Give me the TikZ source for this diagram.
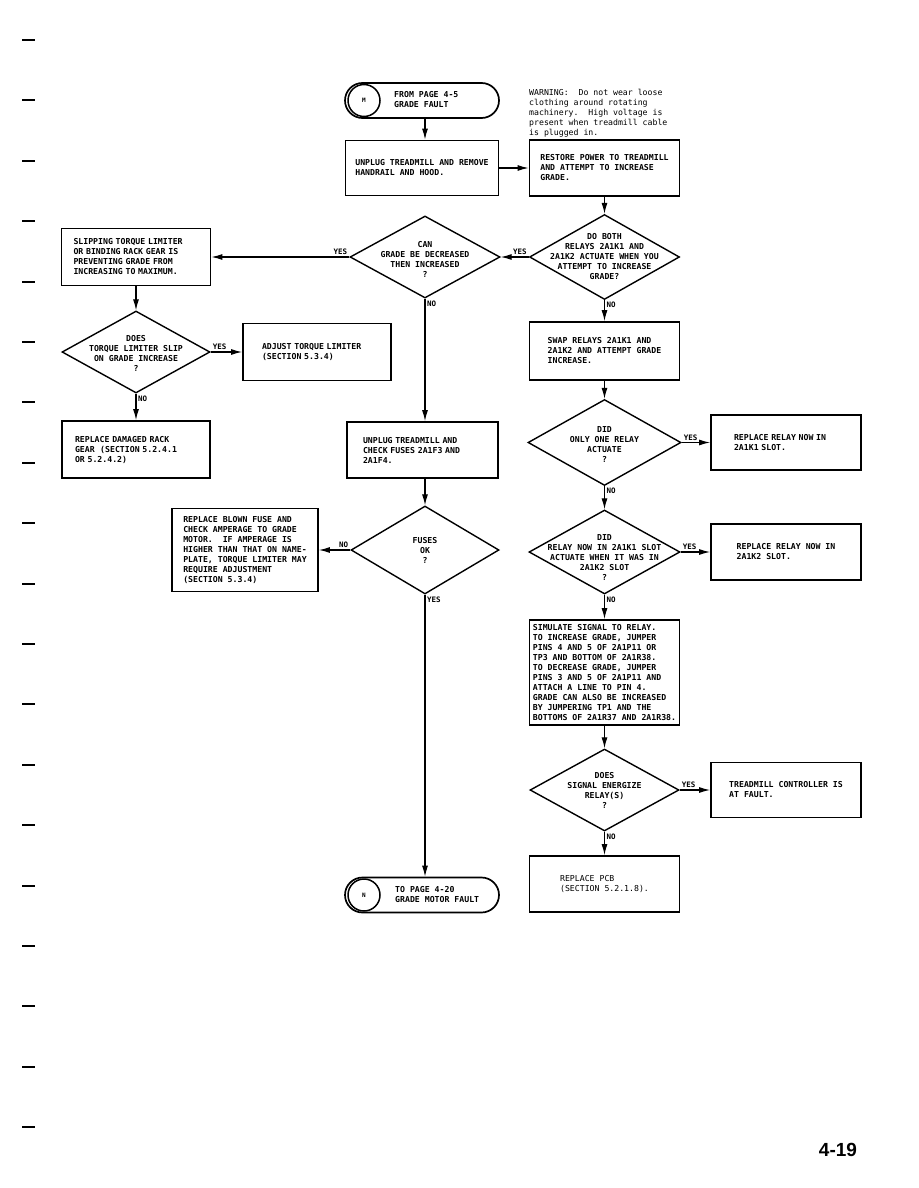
\documentclass[tikz,border=0pt]{standalone}
\usepackage{fontspec}
\setmonofont{DejaVu Sans Mono}
\newfontfamily\pagefont{Liberation Sans}
\usepackage{tikz}
\usetikzlibrary{arrows.meta, positioning, calc, shapes.geometric, shapes.misc}

\begin{document}
\begin{tikzpicture}[
    x=1pt, y=-1pt,
    font=\fontsize{8.2}{10}\selectfont\ttfamily\bfseries,
    box/.style={draw, line width=1.8pt, align=left, inner sep=0pt},
    dia/.style={diamond, draw, line width=1.4pt, inner sep=0pt},
    dtext/.style={align=center, inner sep=0pt},
    term/.style={rounded rectangle, draw, line width=1.7pt, minimum width=154pt, minimum height=35pt, inner sep=0pt},
    tcirc/.style={circle, draw, line width=1.5pt, minimum size=32pt, inner sep=0pt, font=\fontsize{6}{6}\selectfont\ttfamily\bfseries},
    plain/.style={font=\fontsize{8.2}{10}\selectfont\ttfamily},
    lbl/.style={inner sep=1.5pt, font=\fontsize{7.5}{8}\selectfont\ttfamily\bfseries},
    arrow/.style={-{Latex[length=11pt,width=6pt]}, line width=1.1pt}
]
\useasboundingbox (0,0) rectangle (918,1188);

% binder marks on the left edge
\foreach \i in {0,...,18}
    \draw[line width=2pt] (22,{40+60.4*\i}) -- (35,{40+60.4*\i});

% entry from page 4-5
\node[term] (fromM) at (422,100.5) {};
\node[tcirc] (mcirc) at (364,100.5) {M};
\node[dtext, anchor=west, align=left] (fromMtxt) at (394,99.5) {FROM PAGE 4-5\\GRADE FAULT};

\node[plain, anchor=north west, align=left, inner sep=0pt] (warn) at (529,89)
    {WARNING:\ \ Do not wear loose\\clothing around rotating\\machinery.\ \ High voltage is\\present when treadmill cable\\is plugged in.};

% middle and left column
\node[box, minimum width=153pt, minimum height=55pt] (unplug) at (422,168)
    {UNPLUG TREADMILL AND REMOVE\\HANDRAIL AND HOOD.};
\node[dia, minimum width=150pt, minimum height=82pt] (can) at (425,257) {};
\node[dtext, yshift=-2pt] (cantxt) at (can) {CAN\\GRADE BE DECREASED\\THEN INCREASED\\?};

\node[box, minimum width=149pt, minimum height=57pt, text width=125pt, inner xsep=12pt] (slip) at (136,257)
    {SLIPPING TORQUE LIMITER\\OR BINDING RACK GEAR IS\\PREVENTING GRADE FROM\\INCREASING TO MAXIMUM.};
\node[dia, minimum width=148pt, minimum height=82pt] (torq) at (136,352) {};
\node[dtext, yshift=-1pt] (torqtxt) at (torq) {DOES\\TORQUE LIMITER SLIP\\ON GRADE INCREASE\\?};
\node[box, minimum width=148pt, minimum height=57pt, text width=110pt, inner xsep=19pt] (adjust) at (317,352)
    {ADJUST TORQUE LIMITER\\(SECTION 5.3.4)};
\node[box, minimum width=148pt, minimum height=57pt, text width=122pt, inner xsep=13pt] (rack) at (136,449.5)
    {REPLACE DAMAGED RACK\\GEAR\ \ (SECTION 5.2.4.1\\OR 5.2.4.2)};

\node[box, minimum width=151pt, minimum height=56pt, text width=119pt, inner xsep=16pt] (unplugb) at (422.5,450)
    {UNPLUG TREADMILL AND\\CHECK FUSES 2A1F3 AND\\2A1F4.};
\node[dia, minimum width=148pt, minimum height=88pt] (fuses) at (425,550) {};
\node[dtext] (fusestxt) at (fuses) {FUSES\\OK\\?};
\node[box, minimum width=146pt, minimum height=83pt] (blown) at (245,550)
    {REPLACE BLOWN FUSE AND\\CHECK AMPERAGE TO GRADE\\MOTOR.\ \ IF AMPERAGE IS\\HIGHER THAN THAT ON NAME-\\PLATE, TORQUE LIMITER MAY\\REQUIRE ADJUSTMENT\\(SECTION 5.3.4)};

% exit to page 4-20
\node[term] (toN) at (422,895) {};
\node[tcirc] (ncirc) at (364,895) {N};
\node[dtext, anchor=west, align=left] (toNtxt) at (395,895) {TO PAGE 4-20\\GRADE MOTOR FAULT};

% right column
\node[box, minimum width=150pt, minimum height=56pt] (restore) at (604.5,168)
    {RESTORE POWER TO TREADMILL\\AND ATTEMPT TO INCREASE\\GRADE.};
\node[dia, minimum width=150pt, minimum height=85pt] (both) at (604.5,257) {};
\node[dtext] (bothtxt) at (both) {DO BOTH\\RELAYS 2A1K1 AND\\2A1K2 ACTUATE WHEN YOU\\ATTEMPT TO INCREASE\\GRADE?};
\node[box, minimum width=150pt, minimum height=58pt] (swap) at (604.5,351)
    {SWAP RELAYS 2A1K1 AND\\2A1K2 AND ATTEMPT GRADE\\INCREASE.};
\node[dia, minimum width=153pt, minimum height=86pt] (did1) at (604.5,442.5) {};
\node[dtext, yshift=-2pt] (did1txt) at (did1) {DID\\ONLY ONE RELAY\\ACTUATE\\?};
\node[box, minimum width=150pt, minimum height=55pt, text width=104pt, inner xsep=23pt] (relayk1) at (786,442.5)
    {REPLACE RELAY NOW IN\\2A1K1 SLOT.};
\node[dia, minimum width=151pt, minimum height=84pt] (did2) at (604.5,552) {};
\node[dtext, yshift=-6pt] (did2txt) at (did2) {DID\\RELAY NOW IN 2A1K1 SLOT\\ACTUATE WHEN IT WAS IN\\2A1K2 SLOT\\?};
\node[box, minimum width=150pt, minimum height=56pt] (relayk2) at (786,552)
    {REPLACE RELAY NOW IN\\2A1K2 SLOT.};
\node[box, minimum width=150pt, minimum height=105pt] (simulate) at (604.5,672.5)
    {SIMULATE SIGNAL TO RELAY.\\TO INCREASE GRADE, JUMPER\\PINS 4 AND 5 OF 2A1P11 OR\\TP3 AND BOTTOM OF 2A1R38.\\TO DECREASE GRADE, JUMPER\\PINS 3 AND 5 OF 2A1P11 AND\\ATTACH A LINE TO PIN 4.\\GRADE CAN ALSO BE INCREASED\\BY JUMPERING TP1 AND THE\\BOTTOMS OF 2A1R37 AND 2A1R38.};
\node[dia, minimum width=149pt, minimum height=82pt] (signal) at (604.5,790) {};
\node[dtext] (signaltxt) at (signal) {DOES\\SIGNAL ENERGIZE\\RELAY(S)\\?};
\node[box, minimum width=150pt, minimum height=55pt] (control) at (786,790)
    {TREADMILL CONTROLLER IS\\AT FAULT.};
\node[box, plain, minimum width=150pt, minimum height=56pt] (pcb) at (604.5,884)
    {REPLACE PCB\\(SECTION 5.2.1.8).};

\node[font=\pagefont\bfseries\fontsize{19}{19}\selectfont] (pageno) at (838,1150) {4-19};

% connectors
\draw[arrow] ([xshift=3pt]fromM.south) -- ([xshift=3pt]unplug.north);
\draw[arrow] (unplug) -- (restore);
\draw[arrow] (restore) -- (both);
\draw[arrow] (both) -- node[lbl, above left, pos=0] {YES} (can);
\draw[arrow] (can) -- node[lbl, above left, pos=0] {YES} (slip);
\draw[arrow] (slip) -- (torq);
\draw[arrow] (torq) -- node[lbl, above right, pos=0] {YES} (adjust);
\draw[arrow] (torq) -- node[lbl, below right, pos=0] {NO} (rack);
\draw[arrow] (can) -- node[lbl, below right, pos=0] {NO} (can |- unplugb.north);
\draw[arrow] (unplugb.south -| fuses.north) -- (fuses);
\draw[arrow] (fuses) -- node[lbl, above left, pos=0] {NO} (blown);
\draw[arrow] (fuses) -- node[lbl, below right, pos=0] {YES} (fuses |- toN.north);

\draw[arrow] (both) -- node[lbl, below right, pos=0] {NO} (swap);
\draw[arrow] (swap) -- (did1);
\draw[arrow] (did1) -- node[lbl, above right, pos=0] {YES} (relayk1);
\draw[arrow] (did1) -- node[lbl, below right, pos=0] {NO} (did2);
\draw[arrow] (did2) -- node[lbl, above right, pos=0] {YES} (relayk2);
\draw[arrow] (did2) -- node[lbl, below right, pos=0] {NO} (simulate);
\draw[arrow] (simulate) -- (signal);
\draw[arrow] (signal) -- node[lbl, above right, pos=0] {YES} (control);
\draw[arrow] (signal) -- node[lbl, below right, pos=0] {NO} (pcb);

\end{tikzpicture}
\end{document}
